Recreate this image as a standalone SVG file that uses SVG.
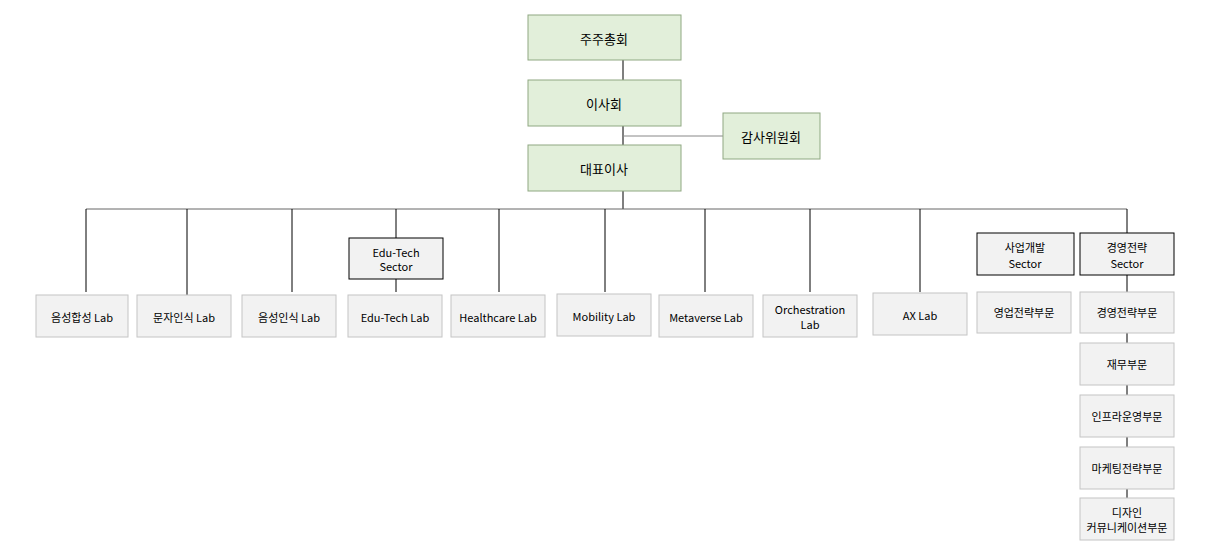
<svg xmlns="http://www.w3.org/2000/svg" width="1217" height="560" viewBox="0 0 1217 560">
<style>
text{font-family:"Noto Sans CJK KR","Liberation Sans",sans-serif;font-size:11px;fill:#000;text-anchor:middle;dominant-baseline:central}
.g{fill:#e2efda;stroke:#8fa882;stroke-width:1}
.g+text{font-size:13px}
.l{fill:#f2f2f2;stroke:#c4c4c4;stroke-width:1}
.s{fill:#f2f2f2;stroke:#000;stroke-width:1}
.c line{stroke:#000;stroke-width:1}
</style>
<rect width="1217" height="560" fill="#fff"/>
<g class="c">
<line x1="623" y1="60" x2="623" y2="145" stroke="#555"/>
<line x1="623" y1="136" x2="723" y2="136" style="stroke:#888"/>
<line x1="623" y1="191" x2="623" y2="209"/>
<line x1="86" y1="209" x2="1127" y2="209" style="stroke:#666"/>
<line x1="86" y1="209" x2="86" y2="292"/>
<line x1="187" y1="209" x2="187" y2="295"/>
<line x1="292" y1="209" x2="292" y2="292"/>
<line x1="396" y1="209" x2="396" y2="238"/>
<line x1="396" y1="279" x2="396" y2="292"/>
<line x1="499" y1="209" x2="499" y2="292"/>
<line x1="605" y1="209" x2="605" y2="292"/>
<line x1="705" y1="209" x2="705" y2="292"/>
<line x1="810" y1="209" x2="810" y2="292"/>
<line x1="920" y1="209" x2="920" y2="292"/>
<line x1="1127" y1="209" x2="1127" y2="233"/>
<line x1="1127" y1="275" x2="1127" y2="498"/>
</g>
<g id="n1"><rect class="g" x="528" y="15" width="153" height="45"/><text x="604" y="38" style="font-size:13px">주주총회</text></g>
<g id="n2"><rect class="g" x="528" y="80" width="153" height="46"/><text x="604" y="103" style="font-size:13px">이사회</text></g>
<g id="n3"><rect class="g" x="723" y="113" width="97" height="46"/><text x="771" y="136" style="font-size:13px">감사위원회</text></g>
<g id="n4"><rect class="g" x="528" y="145" width="153" height="46"/><text x="604" y="168" style="font-size:13px">대표이사</text></g>
<g id="l1"><rect class="l" x="36" y="295" width="92" height="42"/><text x="82" y="317">음성합성 Lab</text></g>
<g id="l2"><rect class="l" x="137" y="295" width="94" height="42"/><text x="184" y="317">문자인식 Lab</text></g>
<g id="l3"><rect class="l" x="242" y="295" width="94" height="42"/><text x="289" y="317">음성인식 Lab</text></g>
<g id="s1"><rect class="s" x="349" y="238" width="94" height="41"/><text x="396" y="252">Edu-Tech</text><text x="396" y="266">Sector</text></g>
<g id="l4"><rect class="l" x="348" y="295" width="94" height="42"/><text x="395" y="317">Edu-Tech Lab</text></g>
<g id="l5"><rect class="l" x="451" y="295" width="94" height="42"/><text x="498" y="317">Healthcare Lab</text></g>
<g id="l6"><rect class="l" x="557" y="294" width="94" height="42"/><text x="604" y="316">Mobility Lab</text></g>
<g id="l7"><rect class="l" x="659" y="295" width="94" height="42"/><text x="706" y="317">Metaverse Lab</text></g>
<g id="l8"><rect class="l" x="763" y="295" width="94" height="42"/><text x="810" y="309">Orchestration</text><text x="810" y="324">Lab</text></g>
<g id="l9"><rect class="l" x="873" y="293" width="94" height="42"/><text x="920" y="315">AX Lab</text></g>
<g id="s2"><rect class="s" x="977" y="233" width="97" height="42"/><text x="1025" y="247">사업개발</text><text x="1025" y="263">Sector</text></g>
<g id="s3"><rect class="s" x="1080" y="233" width="94" height="42"/><text x="1127" y="247">경영전략</text><text x="1127" y="263">Sector</text></g>
<g id="d1"><rect class="l" x="977" y="292" width="94" height="41"/><text x="1024" y="312">영업전략부문</text></g>
<g id="d2"><rect class="l" x="1080" y="292" width="94" height="41"/><text x="1127" y="312">경영전략부문</text></g>
<g id="d3"><rect class="l" x="1080" y="343" width="94" height="42"/><text x="1127" y="364">재무부문</text></g>
<g id="d4"><rect class="l" x="1080" y="395" width="94" height="42"/><text x="1127" y="416">인프라운영부문</text></g>
<g id="d5"><rect class="l" x="1080" y="447" width="94" height="42"/><text x="1127" y="468">마케팅전략부문</text></g>
<g id="d6"><rect class="l" x="1080" y="498" width="94" height="42"/><text x="1127" y="512">디자인</text><text x="1127" y="527">커뮤니케이션부문</text></g>
</svg>
